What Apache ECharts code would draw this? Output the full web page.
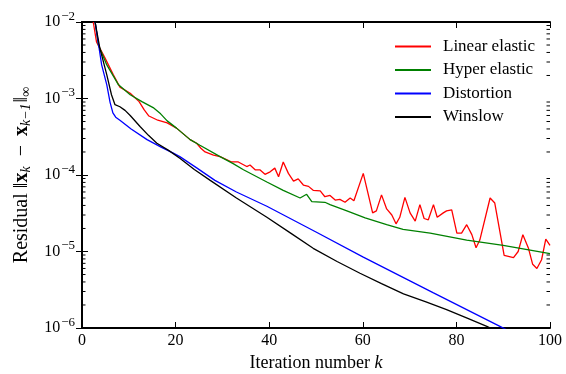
<!DOCTYPE html>
<html>
<head>
<meta charset="utf-8">
<script src="https://cdn.jsdelivr.net/npm/echarts@6/dist/echarts.min.js"></script>
<style>
html, body { margin: 0; padding: 0; background: #fff; }
#chart { width: 566px; height: 374px; }
</style>
</head>
<body>
<div id="chart"></div>
<script>
// values, [iteration, residual]
var linearElastic = [
    [2.4, 1.0e-2], [3.1, 5.5e-3], [4.9, 3.4e-3], [6.7, 2.04e-3], [8.1, 1.41e-3],
    [10.3, 1.17e-3], [12.2, 9.1e-4], [13.3, 7.1e-4], [14.3, 5.9e-4], [16.2, 5.2e-4],
    [18.2, 4.8e-4], [20.2, 4.1e-4], [23.1, 2.9e-4], [24.5, 2.6e-4], [25.4, 2.24e-4],
    [26.3, 2.0e-4], [28.1, 1.82e-4], [29.5, 1.74e-4], [32, 1.48e-4], [33.4, 1.48e-4],
    [35.2, 1.29e-4], [35.9, 1.35e-4], [37, 1.17e-4], [38, 1.17e-4], [39.1, 1.02e-4],
    [40.2, 1.10e-4], [41.2, 1.23e-4], [42, 9.5e-5], [43, 1.48e-4], [44.1, 1.05e-4],
    [45.2, 8.3e-5], [46.2, 8.9e-5], [47.3, 7.4e-5], [48.4, 7.1e-5], [49.4, 6.3e-5],
    [50.9, 6.2e-5], [51.9, 5.2e-5], [53, 5.4e-5], [54.1, 4.7e-5], [55.1, 4.8e-5],
    [56.2, 4.4e-5], [57.3, 5.0e-5], [58.1, 4.6e-5], [60.1, 1.05e-4], [62.1, 3.2e-5],
    [62.9, 3.4e-5], [64, 5.5e-5], [65.1, 3.6e-5], [66.2, 3.0e-5], [67.1, 2.3e-5],
    [67.9, 2.8e-5], [69, 5.1e-5], [70.1, 3.2e-5], [71.2, 2.5e-5], [72.2, 4.1e-5],
    [73.1, 2.7e-5], [74, 2.6e-5], [75.1, 4.1e-5], [75.9, 2.8e-5], [77.2, 3.2e-5],
    [77.9, 3.4e-5], [79, 3.5e-5], [80.1, 1.74e-5], [81.1, 1.74e-5], [82.2, 2.24e-5],
    [83.3, 1.66e-5], [84.2, 1.12e-5], [85, 1.41e-5], [87.2, 5.0e-5], [88.2, 4.3e-5],
    [90.2, 8.9e-6], [92.2, 8.3e-6], [93.2, 1.0e-5], [94.2, 1.66e-5], [95.4, 1.1e-5],
    [96.3, 6.8e-6], [97.2, 6.0e-6], [98.2, 7.8e-6], [99.1, 1.45e-5], [100, 1.2e-5]
];
var hyperElastic = [
    [2.8, 1.0e-2], [3.5, 5.0e-3], [5.3, 2.75e-3], [7.8, 1.51e-3], [10.3, 1.12e-3],
    [12.8, 9.1e-4], [15.2, 7.6e-4], [16.8, 6.3e-4], [18.2, 5.1e-4], [20.2, 4.1e-4],
    [23.1, 2.9e-4], [25.2, 2.45e-4], [29.5, 1.74e-4], [32.3, 1.41e-4], [34.5, 1.17e-4],
    [39.5, 8.1e-5], [43, 6.3e-5], [46.6, 5.0e-5], [48, 5.6e-5], [49.1, 4.5e-5],
    [51.9, 4.4e-5], [53, 4.1e-5], [56.6, 3.4e-5], [60.5, 2.75e-5], [65.1, 2.24e-5],
    [68.6, 1.95e-5], [74.4, 1.74e-5], [82.2, 1.41e-5], [90, 1.2e-5], [100, 9.4e-6]
];
var distortion = [
    [2.8, 1.0e-2], [4.2, 2.75e-3], [5.3, 1.51e-3], [6.0, 8.9e-4], [6.6, 6.5e-4],
    [7.2, 5.7e-4], [8.1, 5.2e-4], [10.5, 4.0e-4], [13.9, 2.9e-4], [17, 2.3e-4],
    [19.4, 1.95e-4], [20.9, 1.74e-4], [24.5, 1.24e-4], [28.4, 8.5e-5], [33, 6.0e-5],
    [39.5, 3.9e-5], [50, 1.8e-5], [60, 8.5e-6], [75, 2.9e-6], [89.3, 1.05e-6], [91, 9.3e-7]
];
var winslow = [
    [2.8, 1.0e-2], [3.8, 4.6e-3], [5.3, 2.04e-3], [6.3, 1.12e-3], [7.05, 8.3e-4],
    [8.1, 7.8e-4], [9.2, 7.0e-4], [10.3, 6.0e-4], [12.4, 4.3e-4], [14.2, 3.3e-4],
    [16, 2.6e-4], [18.5, 2.1e-4], [20.9, 1.66e-4], [24, 1.18e-4], [27.4, 8.5e-5],
    [33, 5.0e-5], [39.5, 2.8e-5], [44.5, 1.75e-5], [49.4, 1.1e-5], [54.5, 7.4e-6],
    [59.4, 5.2e-6], [64, 3.8e-6], [68.7, 2.8e-6], [73.5, 2.2e-6], [77.9, 1.74e-6],
    [82.3, 1.35e-6], [86.5, 1.05e-6], [90, 8.3e-7]
];

var seriesNames = ['Linear elastic', 'Hyper elastic', 'Distortion', 'Winslow'];
var seriesColors = ['#ff0000', '#008000', '#0000ff', '#000000'];
var seriesData = [linearElastic, hyperElastic, distortion, winslow];

var xMin = 0, xMax = 100, xStep = 20;
var yMin = 1e-6, yMax = 1e-2;
// log minor ticks (2..9 in each decade)
var minorTicks = [
    2e-6, 3e-6, 4e-6, 5e-6, 6e-6, 7e-6, 8e-6, 9e-6,
    2e-5, 3e-5, 4e-5, 5e-5, 6e-5, 7e-5, 8e-5, 9e-5,
    2e-4, 3e-4, 4e-4, 5e-4, 6e-4, 7e-4, 8e-4, 9e-4,
    2e-3, 3e-3, 4e-3, 5e-3, 6e-3, 7e-3, 8e-3, 9e-3
];

var FONT = 'Liberation Serif';

var chart = echarts.init(document.getElementById('chart'));

var series = seriesData.map(function (d, i) {
    return {
        name: seriesNames[i],
        type: 'line',
        data: d,
        symbol: 'none',
        clip: true,
        animation: false,
        lineStyle: { color: seriesColors[i], width: 1.3 },
        itemStyle: { color: seriesColors[i] }
    };
});

// minor ticks of the log axis, left and right frame
series.push({
    type: 'custom',
    silent: true,
    animation: false,
    data: minorTicks.map(function (v) { return [xMin, v]; }),
    renderItem: function (params, api) {
        var v = api.value(1);
        var l = api.coord([xMin, v]);
        var r = api.coord([xMax, v]);
        return {
            type: 'group',
            children: [
                { type: 'line', shape: { x1: l[0], y1: l[1], x2: l[0] + 3.5, y2: l[1] }, style: { stroke: '#000', lineWidth: 1 } },
                { type: 'line', shape: { x1: r[0] - 3.5, y1: r[1], x2: r[0], y2: r[1] }, style: { stroke: '#000', lineWidth: 1 } }
            ]
        };
    }
});

var axisLineStyle = { show: true, lineStyle: { color: '#000', width: 2 } };

chart.setOption({
    backgroundColor: '#fff',
    animation: false,
    textStyle: { fontFamily: FONT },
    grid: { left: 82, right: 16, top: 22, bottom: 46, outerBoundsMode: 'none' },
    legend: {
        data: seriesNames,
        orient: 'vertical',
        left: 389,
        top: 33,
        itemWidth: 36,
        itemHeight: 14,
        itemGap: 6.5,
        itemStyle: { opacity: 0 },
        textStyle: { fontFamily: FONT, fontSize: 17, color: '#000', padding: [0, 0, 0, 7] }
    },
    xAxis: [{
        type: 'value',
        min: xMin, max: xMax, interval: xStep,
        name: 'Iteration number {i|k}',
        nameLocation: 'middle',
        nameGap: 26,
        nameTextStyle: {
            fontFamily: FONT, fontSize: 18, color: '#000',
            rich: { i: { fontFamily: FONT, fontSize: 18, fontStyle: 'italic', color: '#000' } }
        },
        axisLine: axisLineStyle,
        axisTick: { inside: true, length: 6, lineStyle: { color: '#000', width: 1 } },
        axisLabel: { fontFamily: FONT, fontSize: 16, color: '#000', margin: 5 },
        splitLine: { show: false }
    }, {
        type: 'value',
        position: 'top',
        min: xMin, max: xMax, interval: xStep,
        axisLine: axisLineStyle,
        axisTick: { inside: true, length: 6, lineStyle: { color: '#000', width: 1 } },
        axisLabel: { show: false },
        splitLine: { show: false }
    }],
    yAxis: [{
        type: 'log',
        logBase: 10,
        min: yMin, max: yMax,
        name: 'Residual \u2016{b|x}{s|k}\u2009 \u2212 \u2009{b|x}{s|k\u22121}\u2016{n|\u221e}',
        nameLocation: 'middle',
        nameRotate: 90,
        nameGap: 48,
        nameTextStyle: {
            fontFamily: FONT, fontSize: 20, color: '#000',
            rich: {
                b: { fontFamily: FONT, fontSize: 20, fontWeight: 'bold', color: '#000' },
                s: { fontFamily: FONT, fontSize: 14, fontStyle: 'italic', color: '#000', padding: [9, 1, 0, 0] },
                n: { fontFamily: FONT, fontSize: 14, color: '#000', padding: [9, 0, 0, 0] }
            }
        },
        axisLine: axisLineStyle,
        axisTick: { inside: true, length: 6, lineStyle: { color: '#000', width: 1 } },
        axisLabel: {
            margin: 7,
            formatter: function (v) {
                var e = Math.round(Math.log(v) / Math.LN10);
                return '{b|10}{s|' + (e < 0 ? '\u2212' : '') + Math.abs(e) + '}';
            },
            rich: {
                b: { fontFamily: FONT, fontSize: 16, color: '#000' },
                s: { fontFamily: FONT, fontSize: 13, color: '#000', padding: [0, 0, 11, 1] }
            }
        },
        splitLine: { show: false }
    }, {
        type: 'log',
        logBase: 10,
        position: 'right',
        min: yMin, max: yMax,
        axisLine: axisLineStyle,
        axisTick: { inside: true, length: 6, lineStyle: { color: '#000', width: 1 } },
        axisLabel: { show: false },
        splitLine: { show: false }
    }],
    series: series
});
</script>
</body>
</html>
